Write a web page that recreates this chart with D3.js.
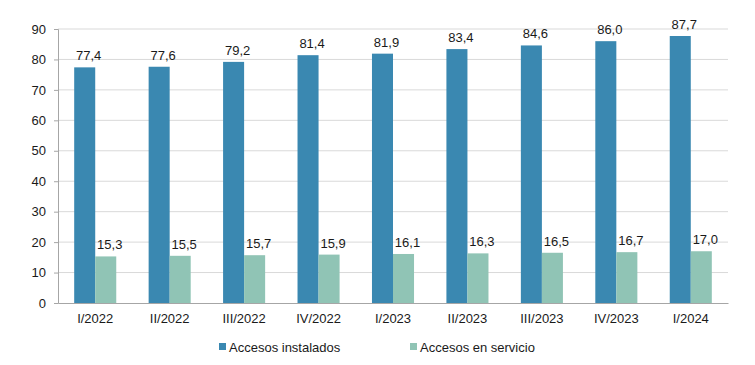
<!DOCTYPE html>
<html lang="es">
<head>
<meta charset="UTF-8">
<title>Accesos</title>
<script src="https://d3js.org/d3.v7.min.js"></script>
<style>
    body{ margin:0; background:#fff; }
    text{ font-family:"Liberation Sans", Arial, sans-serif; fill:#1a1a1a; }
</style>
</head>
<body>
<svg id="chart" width="755" height="365"></svg>
<script>
    let periods = ["I/2022","II/2022","III/2022","IV/2022","I/2023","II/2023","III/2023","IV/2023","I/2024"]
    let instalados = [77.4,77.6,79.2,81.4,81.9,83.4,84.6,86.0,87.7]
    let servicio = [15.3,15.5,15.7,15.9,16.1,16.3,16.5,16.7,17.0]
    let seriesNames = ["Accesos instalados","Accesos en servicio"]
    let colors = ["#3a88b1","#90c4b5"]
    let yTicks = [0,10,20,30,40,50,60,70,80,90]

    let svg = d3.select("#chart")
    let margin = {left:58, right:27, top:29, bottom:62}
    let w = 755 - margin.left - margin.right
    let h = 365 - margin.top - margin.bottom
    let g = svg.append("g").attr("transform","translate("+margin.left+","+margin.top+")")

    let x = d3.scaleBand().domain(periods).range([0,w]).paddingInner(0.435).paddingOuter(0.2175)
    let xs = d3.scaleBand().domain([0,1]).range([0,x.bandwidth()])
    let y = d3.scaleLinear().domain([0,90]).range([h,0])

    // gridlines
    g.append("g").selectAll("line").data(yTicks.slice(1)).join("line")
        .attr("x1",0).attr("x2",w)
        .attr("y1",d=>y(d)).attr("y2",d=>y(d))
        .attr("stroke","#d9d9d9").attr("stroke-width",1)

    let fmt = d => d.toFixed(1).replace(".",",")
    let series = [instalados, servicio]
    series.forEach(function(vals,i){
        let grp = g.append("g")
        grp.selectAll("rect").data(vals).join("rect")
            .attr("x",(d,j)=>x(periods[j])+xs(i))
            .attr("y",d=>y(d))
            .attr("width",xs.bandwidth())
            .attr("height",d=>h-y(d))
            .attr("fill",colors[i])
        grp.selectAll("text").data(vals).join("text")
            .attr("x",(d,j)=>x(periods[j])+xs(i)+xs.bandwidth()/2+4)
            .attr("y",d=>y(d)-7)
            .attr("text-anchor","middle")
            .attr("font-size","13px")
            .text(fmt)
    })

    // y axis
    let yAxis = g.append("g").call(d3.axisLeft(y).tickValues(yTicks).tickSize(4).tickPadding(8))
    yAxis.select(".domain").attr("stroke","#a6a6a6")
    yAxis.selectAll(".tick line").attr("stroke","#a6a6a6")
    yAxis.selectAll("text").attr("font-size","13px").attr("fill","#1a1a1a")
        .attr("font-family","Liberation Sans, Arial, sans-serif")

    // x axis
    let xAxis = g.append("g").attr("transform","translate(0,"+h+")")
        .call(d3.axisBottom(x).tickSize(0).tickPadding(11).tickSizeOuter(0))
    xAxis.select(".domain").attr("stroke","#a6a6a6")
    xAxis.selectAll("text").attr("font-size","13px").attr("fill","#1a1a1a")
        .attr("font-family","Liberation Sans, Arial, sans-serif")

    // legend
    let legX = [219, 410]
    seriesNames.forEach(function(name,i){
        let lg = svg.append("g").attr("transform","translate("+legX[i]+",352)")
        lg.append("rect").attr("x",0).attr("y",-9).attr("width",7).attr("height",7).attr("fill",colors[i])
        lg.append("text").attr("x",10).attr("y",0).attr("font-size","13px").text(name)
    })
</script>
</body>
</html>
